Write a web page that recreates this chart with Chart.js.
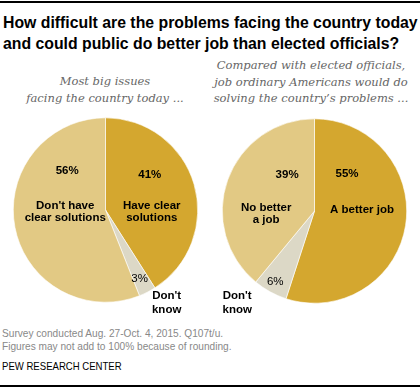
<!DOCTYPE html>
<html>
<head>
<meta charset="utf-8">
<script src="https://cdn.jsdelivr.net/npm/chart.js@4.4.0/dist/chart.umd.min.js"></script>
<style>
  html, body { margin: 0; padding: 0; background: #fff; }
  #wrap { position: relative; width: 420px; height: 388px; overflow: hidden; font-family: "Liberation Sans", Arial, sans-serif; }
  .rule { position: absolute; left: 0; width: 420px; height: 2px; background: #000; }
  #title { position: absolute; left: 3px; top: 12px; font-weight: bold; font-size: 17px; line-height: 21px; color: #000; white-space: nowrap; transform: scaleX(0.93); transform-origin: 0 0; }
  .sub { position: absolute; text-align: center; font-family: "DejaVu Serif", "Liberation Serif", serif; font-style: italic; font-size: 11.5px; line-height: 16.5px; color: #666; white-space: nowrap; }
  .note { position: absolute; left: 2px; font-size: 11px; color: #888; white-space: nowrap; transform: scaleX(0.92); transform-origin: 0 0; }
  #src { position: absolute; left: 2px; top: 360px; font-size: 11px; color: #000; white-space: nowrap; transform: scaleX(0.87); transform-origin: 0 0; }
  .pie { position: absolute; }
</style>
</head>
<body>
<div id="wrap">
  <div class="rule" style="top:1px"></div>
  <div id="title">How difficult are the problems facing the country today<br>and could public do better job than elected officials?</div>
  <div class="sub" style="left:5px; width:200px; top:73px">Most big issues<br>facing the country today ...</div>
  <div class="sub" style="left:206px; width:210px; top:57px">Compared with elected officials,<br>job ordinary Americans would do<br>solving the country’s problems ...</div>
  <div class="pie" style="left:0; top:100px; width:210px; height:220px"><canvas id="pieLeft" width="210" height="220"></canvas></div>
  <div class="pie" style="left:210px; top:100px; width:210px; height:220px"><canvas id="pieRight" width="210" height="220"></canvas></div>
  <div class="note" style="top:327px">Survey conducted Aug. 27-Oct. 4, 2015. Q107t/u.</div>
  <div class="note" style="top:340px">Figures may not add to 100% because of rounding.</div>
  <div id="src">PEW RESEARCH CENTER</div>
  <div class="rule" style="top:385px"></div>
</div>

<script>
// ---------- Data ----------
const leftLabels = ["Have clear solutions", "Don't know", "Don't have clear solutions"];
const leftValues = [41, 3, 56];

const rightLabels = ["A better job", "Don't know", "No better a job"];
const rightValues = [55, 6, 39];

const sliceColors = ["#D4A72F", "#DCD8C6", "#E2C984"];

// text placed on each slice, offsets measured from the slice midpoint
// small slices (rim: true) put the percent near the rim and the label outside
const leftText = [
  { pct: "41%", pdx: 0, pdy: -22, lines: ["Have clear", "solutions"], ldx: 2, ldy: 15 },
  { pct: "3%", pdx: -1, pdy: 0, lines: ["Don't", "know"], ldx: 27, ldy: 24, rim: true },
  { pct: "56%", pdx: 7, pdy: -48, lines: ["Don't have", "clear solutions"], ldx: 5, ldy: -7 }
];
const rightText = [
  { pct: "55%", pdx: -13, pdy: -44, lines: ["A better job"], ldx: 2, ldy: -8 },
  { pct: "6%", pdx: -2, pdy: 3, lines: ["Don't", "know"], ldx: -38, ldy: 21, rim: true },
  { pct: "39%", pdx: 16, pdy: -21, lines: ["No better", "a job"], ldx: -5, ldy: 18 }
];

// ---------- Label plugin ----------
const FONT = "'Liberation Sans', Arial, sans-serif";
const sliceLabels = {
  id: "sliceLabels",
  afterDatasetsDraw(chart, args, opts) {
    const ctx = chart.ctx;
    const arcs = chart.getDatasetMeta(0).data;
    ctx.save();
    ctx.fillStyle = "#000";
    ctx.textAlign = "center";
    ctx.textBaseline = "middle";
    const drawBlock = (lines, x, y, lh) => {
      const h = (lines.length - 1) * lh;
      lines.forEach((t, i) => ctx.fillText(t, x, y - h / 2 + i * lh));
    };
    arcs.forEach((arc, i) => {
      const s = opts.text[i];
      let x, y;
      if (s.rim) {
        const mid = (arc.startAngle + arc.endAngle) / 2;
        const r = arc.outerRadius * 0.84;
        x = arc.x + Math.cos(mid) * r;
        y = arc.y + Math.sin(mid) * r;
      } else {
        const p = arc.tooltipPosition();
        x = p.x; y = p.y;
      }
      ctx.font = (s.rim ? "" : "bold ") + "11.5px " + FONT;
      const px = x + s.pdx, py = y + s.pdy;
      ctx.fillText(s.pct, px, py);
      ctx.font = "bold 11.5px " + FONT;
      if (s.rim) drawBlock(s.lines, px + s.ldx, py + s.ldy, 14);
      else drawBlock(s.lines, x + s.ldx, y + s.ldy, 12);
    });
    ctx.restore();
  }
};

function makePie(id, labels, values, text, padding) {
  return new Chart(document.getElementById(id), {
    type: "pie",
    data: {
      labels: labels,
      datasets: [{
        data: values,
        backgroundColor: sliceColors,
        borderColor: "#fff",
        borderWidth: 0.6
      }]
    },
    options: {
      responsive: false,
      animation: false,
      layout: { padding: padding },
      plugins: {
        legend: { display: false },
        tooltip: { enabled: false },
        sliceLabels: { text: text }
      }
    },
    plugins: [sliceLabels]
  });
}

makePie("pieLeft", leftLabels, leftValues, leftText, { left: 13, right: 12, top: 16, bottom: 16 });
makePie("pieRight", rightLabels, rightValues, rightText, { left: 12, right: 13, top: 17, bottom: 15 });
</script>
</body>
</html>
